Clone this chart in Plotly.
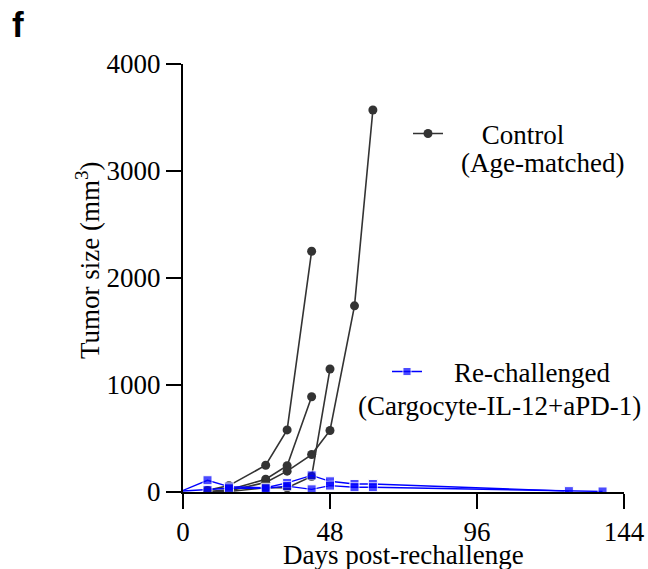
import plotly.graph_objects as go

# ---------------- data ----------------
control_days = [
    [8, 15, 27, 34, 42],
    [8, 15, 27, 34, 42],
    [8, 15, 27, 34, 42, 48],
    [8, 15, 27, 34, 42, 48, 56, 62],
]
control_vals = [
    [15, 60, 250, 580, 2250],
    [5, 20, 120, 245, 890],
    [0, 5, 40, 40, 145, 1150],
    [0, 10, 90, 195, 350, 575, 1740, 3570],
]
rechal_days = [
    [0, 8, 15, 27, 34, 42, 48, 56, 62, 126],
    [0, 8, 15, 27, 34, 42, 48, 56, 62, 137],
]
rechal_vals = [
    [15, 110, 50, 40, 85, 155, 100, 75, 75, 8],
    [10, 20, 35, 35, 55, 25, 60, 45, 45, 5],
]
x_ticks = [0, 48, 96, 144]
y_ticks = [0, 1000, 2000, 3000, 4000]

# ---------------- layout constants ----------------
W, H = 648, 569
L, R, T, B = 183, 24, 64, 77
PW, PH = W - L - R, H - T - B
SERIF = "Times New Roman, Liberation Serif, DejaVu Serif, serif"
FS = 27
GRAY = "#333333"
BLUE = "#0000ff"
NB = "\u00a0"


def px_x(px):
    return (px - L) / PW


def px_y(py):
    return (H - B - py) / PH


def tfont(size=FS, family=SERIF):
    return dict(family=family, size=size, color="black")


fig = go.Figure()

for i, (d, v) in enumerate(zip(control_days, control_vals)):
    fig.add_trace(go.Scatter(
        x=d, y=v, mode="lines+markers",
        line=dict(color=GRAY, width=1.6),
        marker=dict(symbol="circle", size=9, color=GRAY),
        name=NB * 5 + "Control",
        legend="legend", showlegend=(i == 0), legendgroup="c",
    ))

for i, (d, v) in enumerate(zip(rechal_days, rechal_vals)):
    sizes = [0 if dd == 0 else 9 for dd in d]
    fig.add_trace(go.Scatter(
        x=d, y=v, mode="lines+markers",
        line=dict(color=BLUE, width=1.4),
        marker=dict(symbol="square", size=sizes, color=BLUE),
        name=NB * 4 + "Re-challenged",
        legend="legend2", showlegend=(i == 0), legendgroup="r",
    ))

axis_common = dict(
    showline=True, linecolor="black", linewidth=2,
    ticks="outside", ticklen=15, tickwidth=2, tickcolor="black",
    showgrid=False, zeroline=False, automargin=False,
    tickfont=tfont(),
)

fig.update_layout(
    width=W, height=H,
    margin=dict(l=L, r=R, t=T, b=B, pad=0, autoexpand=False),
    paper_bgcolor="white", plot_bgcolor="white",
    font=tfont(),
    xaxis=dict(range=[0, 144], tickvals=x_ticks, **axis_common),
    yaxis=dict(range=[0, 4000], tickvals=y_ticks, **axis_common),
    legend=dict(x=px_x(408), y=px_y(134), xanchor="left", yanchor="middle",
                bgcolor="rgba(0,0,0,0)", borderwidth=0, font=tfont()),
    legend2=dict(x=px_x(387), y=px_y(372), xanchor="left", yanchor="middle",
                 bgcolor="rgba(0,0,0,0)", borderwidth=0, font=tfont()),
    annotations=[
        dict(text="(Age-matched)", xref="paper", yref="paper",
             x=px_x(459), y=px_y(163), xanchor="left", yanchor="middle",
             showarrow=False, font=tfont()),
        dict(text="(Cargocyte-IL-12+aPD-1)", xref="paper", yref="paper",
             x=px_x(356), y=px_y(406), xanchor="left", yanchor="middle",
             showarrow=False, font=tfont()),
        dict(text="Tumor size (mm<sup>3</sup>)", xref="paper", yref="paper",
             x=px_x(88), y=px_y(261), xanchor="center", yanchor="middle",
             textangle=-90, showarrow=False, font=tfont()),
        dict(text="Days post-rechallenge", xref="paper", yref="paper",
             x=0.5, y=px_y(555), xanchor="center", yanchor="middle",
             showarrow=False, font=tfont()),
        dict(text="<b>f</b>", xref="paper", yref="paper",
             x=px_x(10), y=px_y(3), xanchor="left", yanchor="top",
             showarrow=False,
             font=tfont(35, "Liberation Sans, Arial, sans-serif")),
    ],
)

fig.write_html("out.html")
